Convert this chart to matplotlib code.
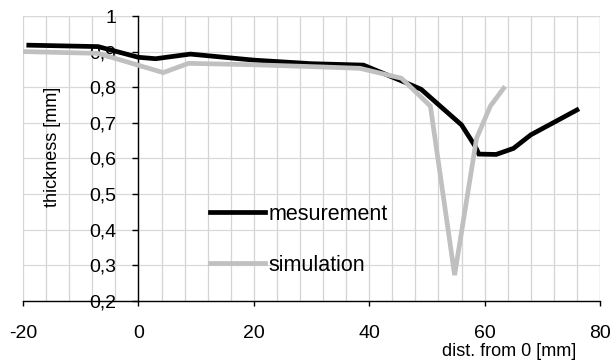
import matplotlib
matplotlib.use("Agg")
import matplotlib.pyplot as plt
from matplotlib.ticker import MultipleLocator, FuncFormatter

plt.rcParams["font.family"] = ["Liberation Sans", "DejaVu Sans"]
plt.rcParams["axes.unicode_minus"] = False

meas_x = [-19, -7, 0, 3, 9, 20, 30, 39, 46, 49, 56, 58.4, 59, 62, 65, 68, 76]
meas_y = [0.918, 0.914, 0.884, 0.880, 0.893, 0.876, 0.866, 0.862, 0.815, 0.794,
          0.694, 0.633, 0.612, 0.611, 0.628, 0.666, 0.736]

# simulated thickness profile
sim_x = [-20, -7, 4.3, 8.7, 20, 31.5, 38.4, 45.6, 50.6, 54.8, 58.6, 61, 63.3]
sim_y = [0.900, 0.895, 0.841, 0.867, 0.863, 0.857, 0.853, 0.825, 0.747, 0.272,
         0.656, 0.747, 0.797]

x_ticks = [-20, 0, 20, 40, 60, 80]
FS = 13
TICK_FS = 14
LEG_FS = 15.5

fig = plt.figure(figsize=(6.11, 3.62), dpi=100)
ax = fig.add_axes([0.0377, 0.1693, 0.9443, 0.7865])

ax.plot(meas_x, meas_y, color="black", lw=3.4, label="mesurement", zorder=3,
        solid_joinstyle="miter")
ax.plot(sim_x, sim_y, color="#c0c0c0", lw=3.4, label="simulation", zorder=3,
        solid_joinstyle="miter")

ax.set_xlim(-20, 80)
ax.set_ylim(0.2, 1.0)

# axes cross at x=0, bottom at 0.2
ax.spines["left"].set_position(("data", 0))
ax.spines["top"].set_visible(False)
ax.spines["right"].set_visible(False)
for s in ("left", "bottom"):
    ax.spines[s].set_linewidth(1.0)
    ax.spines[s].set_color("black")

ax.set_xticks(x_ticks)
ax.xaxis.set_minor_locator(MultipleLocator(4))
ax.yaxis.set_major_locator(MultipleLocator(0.1))
ax.yaxis.set_major_formatter(FuncFormatter(
    lambda v, p: "1" if abs(v - 1) < 1e-6 else f"{v:.1f}".replace(".", ",")))

ax.tick_params(axis="x", which="major", direction="out", length=3.5, width=1,
               pad=14, labelsize=TICK_FS)
ax.tick_params(axis="x", which="minor", length=0)
ax.tick_params(axis="y", direction="out", length=4, width=1, pad=12, labelsize=TICK_FS)

ax.grid(True, which="both", axis="x", color="#d4d4d4", lw=0.9)
ax.grid(True, which="major", axis="y", color="#d9d9d9", lw=0.9)
# right and top border lines are grid-coloured
ax.axvline(80, color="#d4d4d4", lw=0.9, zorder=1)
ax.axhline(1.0, color="#d9d9d9", lw=0.9, zorder=1)

fig.text(53 / 611, 1 - 147 / 362, "thickness [mm]", rotation=90,
         ha="center", va="center", fontsize=FS)
fig.text(509 / 611, 1 - 351 / 362, "dist. from 0 [mm]",
         ha="center", va="center", fontsize=FS)

leg = ax.legend(loc="upper left", bbox_to_anchor=(210 / 611, 1 - 204 / 362),
                bbox_transform=fig.transFigure, frameon=False, fontsize=LEG_FS,
                handlelength=2.56, handletextpad=0.14, labelspacing=1.38,
                borderpad=0, borderaxespad=0)

fig.savefig("out.png", dpi=100)
